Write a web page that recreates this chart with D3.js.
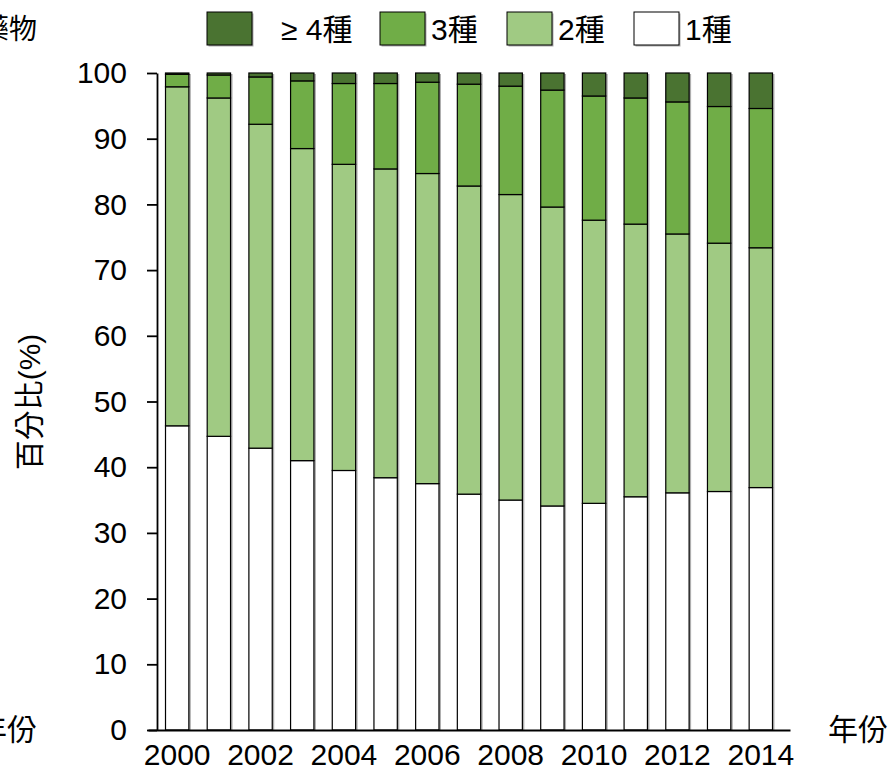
<!DOCTYPE html>
<html>
<head>
<meta charset="utf-8">
<script src="https://cdn.jsdelivr.net/npm/d3@7"></script>
<style>
  html, body { margin: 0; padding: 0; background: #fff; }
  svg { display: block; }
  text { font-family: "Liberation Sans", Arial, "Noto Sans CJK TC", sans-serif; fill: #000; }
  .cjk { font-family: "Liberation Sans", "Noto Sans CJK TC", sans-serif; }
</style>
</head>
<body>
<svg id="chart" width="893" height="772"></svg>
<script>
// Share of patients by number of drugs used, per year (percent)
const years = [2000, 2001, 2002, 2003, 2004, 2005, 2006, 2007, 2008, 2009, 2010, 2011, 2012, 2013, 2014];
const oneDrug   = [46.3, 44.7, 42.9, 41.0, 39.5, 38.4, 37.5, 35.9, 35.0, 34.1, 34.5, 35.5, 36.1, 36.3, 36.9];
const twoDrugs  = [51.6, 51.5, 49.3, 47.5, 46.6, 47.0, 47.2, 46.9, 46.5, 45.5, 43.1, 41.5, 39.4, 37.8, 36.5];
const threeDrugs= [ 1.9,  3.5,  7.2, 10.3, 12.3, 13.0, 13.9, 15.5, 16.5, 17.8, 18.9, 19.2, 20.1, 20.8, 21.2];
const fourPlus  = [ 0.2,  0.3,  0.6,  1.2,  1.6,  1.6,  1.4,  1.7,  2.0,  2.6,  3.5,  3.8,  4.4,  5.1,  5.4];
const yTicks = [0, 10, 20, 30, 40, 50, 60, 70, 80, 90, 100];
const xTickYears = [2000, 2002, 2004, 2006, 2008, 2010, 2012, 2014];

const keys = ["one", "two", "three", "four"];
const legendItems = [
  { key: "four",  label: "≥ 4種" },
  { key: "three", label: "3種" },
  { key: "two",   label: "2種" },
  { key: "one",   label: "1種" }
];
const colors = { one: "#ffffff", two: "#a0ca83", three: "#70ad47", four: "#4a7331" };

const rows = years.map((y, i) => ({
  year: y, one: oneDrug[i], two: twoDrugs[i], three: threeDrugs[i], four: fourPlus[i]
}));

const svg = d3.select("#chart");

const x = d3.scaleBand().domain(years).range([148, 790]).paddingInner(0.44).paddingOuter(0.42);
const y = d3.scaleLinear().domain([0, 100]).range([730, 73]);

const series = d3.stack().keys(keys)(rows);

// soft shadow to the right of each bar
svg.append("g").selectAll("rect").data(rows).join("rect")
  .attr("x", d => x(d.year) + 2)
  .attr("y", d => y(d.one + d.two + d.three + d.four) + 1)
  .attr("width", x.bandwidth())
  .attr("height", d => y(0) - y(d.one + d.two + d.three + d.four))
  .attr("fill", "#8c8c8c")
  .attr("opacity", 0.7);

// stacked segments
svg.append("g").selectAll("g").data(series).join("g")
  .attr("fill", s => colors[s.key])
  .selectAll("rect").data(s => s).join("rect")
  .attr("x", d => x(d.data.year))
  .attr("y", d => y(d[1]))
  .attr("width", x.bandwidth())
  .attr("height", d => y(d[0]) - y(d[1]))
  .attr("stroke", "#000")
  .attr("stroke-width", 1.2);

// y axis
const yAxis = svg.append("g")
  .attr("transform", "translate(157,0)")
  .call(d3.axisLeft(y).tickValues(yTicks).tickSize(10).tickSizeOuter(0).tickPadding(20));
yAxis.select(".domain").attr("stroke", "#000").attr("stroke-width", 1.8);
yAxis.selectAll(".tick line").attr("stroke", "#000").attr("stroke-width", 1.8);
yAxis.selectAll("text").style("font-size", "30px").attr("font-family", null);

// x axis
const xAxis = svg.append("g")
  .attr("transform", "translate(0,730)")
  .call(d3.axisBottom(x).tickValues(xTickYears).tickSize(0).tickSizeOuter(0).tickPadding(14));
xAxis.select(".domain").attr("stroke", "#000").attr("stroke-width", 2);
xAxis.selectAll("text").style("font-size", "30px").attr("font-family", null);

// axis titles
svg.append("text").attr("class", "cjk")
  .attr("transform", "translate(40,402) rotate(-90)")
  .attr("text-anchor", "middle")
  .style("font-size", "30px")
  .text("百分比(%)");

svg.append("text").attr("class", "cjk")
  .attr("x", 828).attr("y", 740)
  .style("font-size", "30px")
  .text("年份");

svg.append("text").attr("class", "cjk")
  .attr("x", 37).attr("y", 740)
  .attr("text-anchor", "end")
  .style("font-size", "30px")
  .text("年份");

svg.append("text").attr("class", "cjk")
  .attr("x", 37).attr("y", 39)
  .attr("text-anchor", "end")
  .style("font-size", "28px")
  .text("藥物");

// legend
const legendX = [207, 380, 507, 634];
const legend = svg.append("g").selectAll("g").data(legendItems).join("g")
  .attr("transform", (d, i) => `translate(${legendX[i]},12)`);
legend.append("rect")
  .attr("x", 1.5).attr("y", 1.5).attr("width", 45).attr("height", 33)
  .attr("fill", "#8c8c8c").attr("opacity", 0.7);
legend.append("rect")
  .attr("width", 45).attr("height", 33)
  .attr("fill", d => colors[d.key])
  .attr("stroke", "#000").attr("stroke-width", 1);
legend.append("text").attr("class", "cjk")
  .attr("x", (d, i) => i === 0 ? 74 : 51)
  .attr("y", 28)
  .style("font-size", "30px")
  .text(d => d.label);
</script>
</body>
</html>
